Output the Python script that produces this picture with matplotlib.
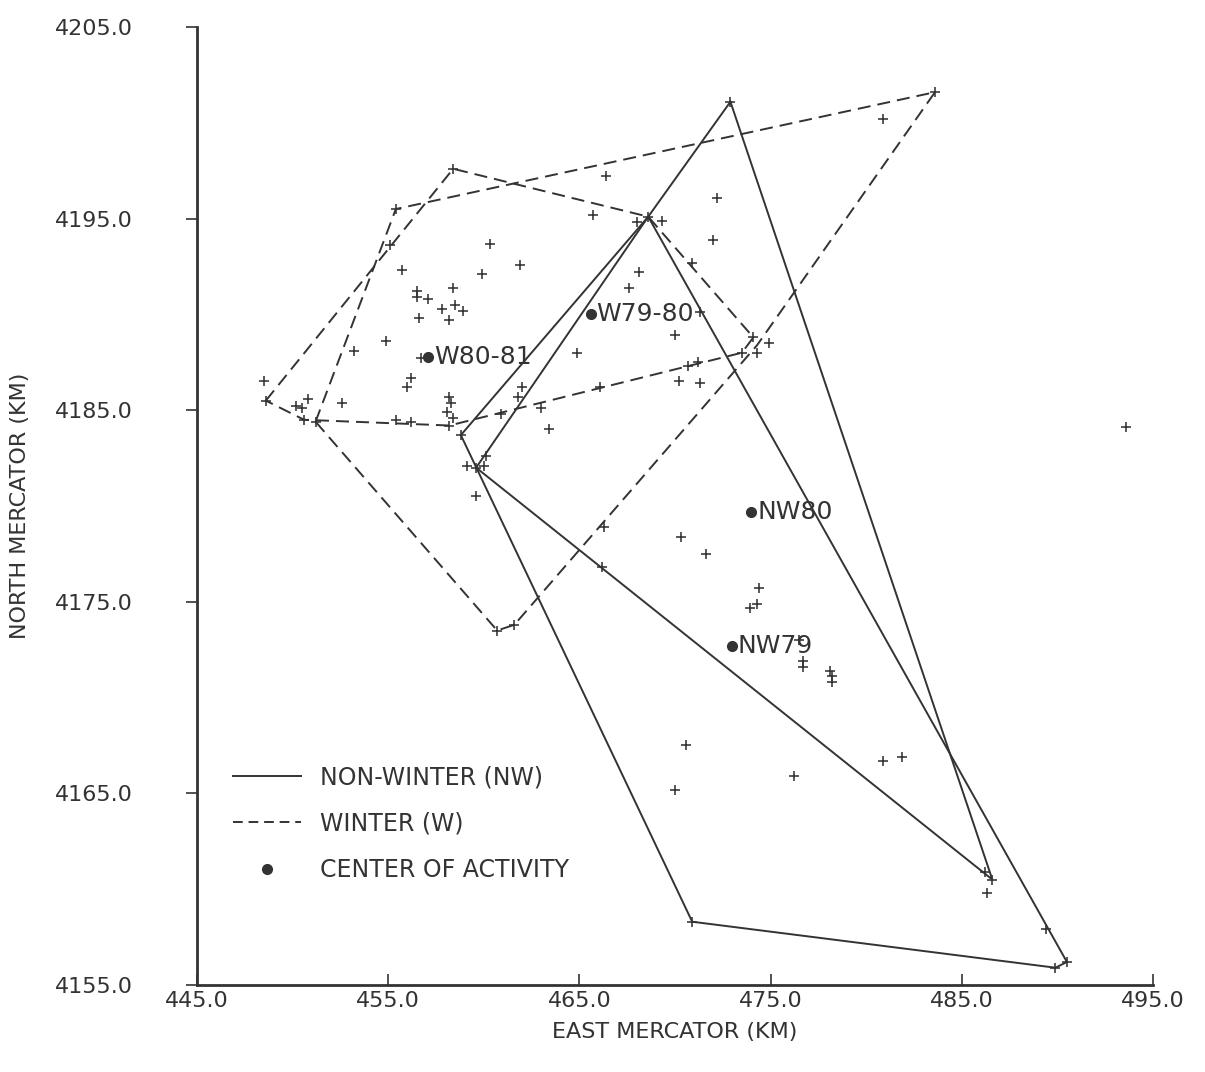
import matplotlib
matplotlib.use("Agg")
import matplotlib.pyplot as plt
from matplotlib.lines import Line2D

# ---------------- data ----------------
x_ticks = [445.0, 455.0, 465.0, 475.0, 485.0, 495.0]
y_ticks = [4155.0, 4165.0, 4175.0, 4185.0, 4195.0, 4205.0]

# observation points (+)
pts_x = [458.4, 455.4, 455.1, 455.7, 460.3, 459.9, 461.9, 456.5, 456.5, 457.1,
         458.4, 457.8, 458.5, 458.9, 456.6, 458.2, 454.9, 453.2, 456.7, 456.2,
         456.0, 448.5, 450.8, 450.2, 450.5, 452.6, 450.6, 451.2, 455.4, 456.2,
         458.2, 458.3, 458.1, 458.4, 458.2, 458.8, 466.4, 465.7, 468.6, 468.0,
         469.3, 472.2, 472.0, 470.9, 468.1, 467.6, 471.3, 470.0, 464.9, 470.7,
         471.2, 470.2, 471.3, 466.1, 462.0, 461.8, 463.0, 460.9, 463.4, 460.1,
         459.1, 459.6, 460.0, 459.6, 466.3, 466.2, 470.3, 471.6, 474.4, 474.3,
         473.9, 476.5, 476.7, 476.7, 478.1, 478.2, 478.2, 460.7, 461.6, 472.9,
         483.6, 480.9, 493.6, 474.9, 474.3, 473.5, 474.1, 470.6, 470.0, 476.2,
         480.9, 481.9, 486.2, 486.6, 486.3, 489.4, 490.5, 489.9, 470.9, 448.6]
pts_y = [4197.6, 4195.5, 4193.6, 4192.3, 4193.7, 4192.1, 4192.6, 4191.2, 4190.9, 4190.8,
         4191.4, 4190.3, 4190.5, 4190.2, 4189.8, 4189.7, 4188.6, 4188.1, 4187.7, 4186.7,
         4186.2, 4186.5, 4185.6, 4185.2, 4185.1, 4185.4, 4184.5, 4184.4, 4184.5, 4184.4,
         4185.7, 4185.4, 4184.9, 4184.6, 4184.2, 4183.7, 4197.2, 4195.2, 4195.1, 4194.8,
         4194.9, 4196.1, 4193.9, 4192.7, 4192.2, 4191.4, 4190.1, 4188.9, 4188.0, 4187.3,
         4187.5, 4186.5, 4186.4, 4186.2, 4186.2, 4185.7, 4185.1, 4184.8, 4184.0, 4182.6,
         4182.1, 4182.0, 4182.1, 4180.5, 4178.9, 4176.8, 4178.4, 4177.5, 4175.7, 4174.9,
         4174.7, 4173.0, 4171.9, 4171.6, 4171.4, 4171.1, 4170.8, 4173.5, 4173.8, 4201.1,
         4201.6, 4200.2, 4184.1, 4188.5, 4188.0, 4188.0, 4188.8, 4167.5, 4165.2, 4165.9,
         4166.7, 4166.9, 4160.9, 4160.5, 4159.8, 4157.9, 4156.2, 4155.9, 4158.3, 4185.5]

# non-winter hulls (solid)
nw80_x = [472.9, 486.6, 459.6, 468.6]
nw80_y = [4201.1, 4160.5, 4182.0, 4195.1]
nw79_x = [468.6, 490.5, 489.9, 470.9, 458.8]
nw79_y = [4195.1, 4156.2, 4155.9, 4158.3, 4183.7]

# winter hulls (dashed)
w79_x = [451.2, 455.4, 483.6, 474.3, 461.6, 460.7]
w79_y = [4184.4, 4195.5, 4201.6, 4188.4, 4173.8, 4173.5]
w80_x = [448.6, 458.4, 468.6, 474.1, 473.5, 458.2, 450.6]
w80_y = [4185.5, 4197.6, 4195.1, 4188.8, 4188.0, 4184.2, 4184.5]

# centers of activity
center_names = ["W80-81", "W79-80", "NW80", "NW79"]
center_x = [457.1, 465.6, 474.0, 473.0]
center_y = [4187.8, 4190.0, 4179.7, 4172.7]

legend_labels = ["NON-WINTER (NW)", "WINTER (W)", "CENTER OF ACTIVITY"]

# ---------------- style ----------------
INK = "#333333"
FONT = "DejaVu Sans"
plt.rcParams["font.family"] = [FONT]

fig = plt.figure(figsize=(12.05, 10.72), dpi=100)
fig.patch.set_facecolor("white")
ax = fig.add_axes([0.1635, 0.0812, 0.7933, 0.8936])

lw = 1.4
dash = (0, (13 * 0.72 / lw, 7 * 0.72 / lw))

def closed(xs, ys):
    return list(xs) + [xs[0]], list(ys) + [ys[0]]

for xs, ys in [(nw80_x, nw80_y), (nw79_x, nw79_y)]:
    cx, cy = closed(xs, ys)
    ax.plot(cx, cy, color=INK, lw=lw, solid_joinstyle="miter")
for xs, ys in [(w79_x, w79_y), (w80_x, w80_y)]:
    cx, cy = closed(xs, ys)
    ax.plot(cx, cy, color=INK, lw=lw, linestyle=dash)

ax.plot(pts_x, pts_y, linestyle="none", marker="+", markersize=7,
        markeredgewidth=1.15, color=INK)

ax.plot(center_x, center_y, linestyle="none", marker="o", markersize=7,
        color=INK)
for name, cx, cy in zip(center_names, center_x, center_y):
    ax.annotate(name, (cx, cy), xytext=(4, 0), textcoords="offset points",
                va="center", ha="left", fontsize=18, color=INK)

ax.set_xlim(445, 495)
ax.set_ylim(4155, 4205)
ax.set_xticks(x_ticks)
ax.set_yticks(y_ticks)
ax.set_xticklabels([f"{v:.1f}" for v in x_ticks])
ax.set_yticklabels([f"{v:.1f}" for v in y_ticks])

for s in ["top", "right"]:
    ax.spines[s].set_visible(False)
for s in ["left", "bottom"]:
    ax.spines[s].set_linewidth(2.0)
    ax.spines[s].set_color(INK)

ax.tick_params(axis="x", direction="in", length=8, width=1.2, colors=INK,
               labelsize=16, pad=4)
ax.tick_params(axis="y", direction="out", length=8, width=1.2, colors=INK,
               labelsize=16, pad=38)

ax.set_xlabel("EAST MERCATOR (KM)", fontsize=16, color=INK, labelpad=8)
ax.set_ylabel("NORTH MERCATOR (KM)", fontsize=16, color=INK, labelpad=18)

handles = [
    Line2D([], [], color=INK, lw=lw),
    Line2D([], [], color=INK, lw=lw, linestyle=(0, (5, 3))),
    Line2D([], [], color=INK, marker="o", markersize=7, linestyle="none"),
]
leg = ax.legend(handles, legend_labels, loc="lower left",
                bbox_to_anchor=(0.025, 0.095), frameon=False,
                fontsize=17, handlelength=2.9, handletextpad=0.8,
                labelspacing=0.95, borderpad=0)
for t in leg.get_texts():
    t.set_color(INK)

fig.savefig("out.png", dpi=100, facecolor="white")
